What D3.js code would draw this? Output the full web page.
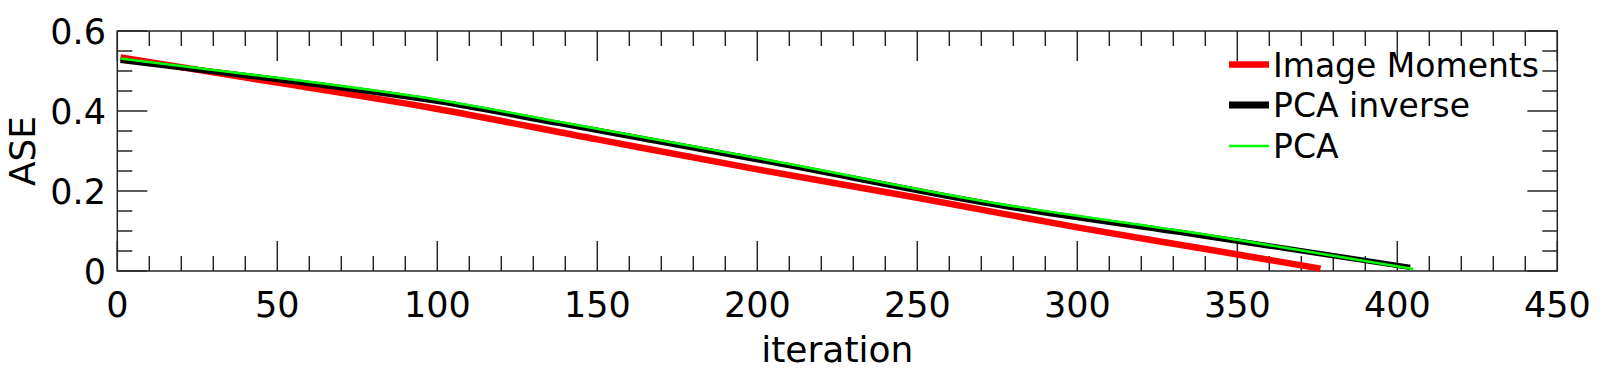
<!DOCTYPE html>
<html>
<head>
<meta charset="utf-8">
<script src="https://cdn.jsdelivr.net/npm/d3@7"></script>
<style>
  html, body { margin: 0; padding: 0; background: #fff; }
  svg { display: block; font-family: "DejaVu Sans", sans-serif; }
</style>
</head>
<body>
<svg id="chart" width="1611" height="371"></svg>
<script>
// ---- data ----
const seriesNames = ["Image Moments", "PCA inverse", "PCA"];
const seriesColors = ["#ff0000", "#000000", "#00ff00"];
const imageMomentsIter = [1, 50, 100, 150, 200, 250, 300, 340, 376];
const imageMomentsASE  = [0.534, 0.471, 0.405, 0.329, 0.254, 0.183, 0.109, 0.055, 0.006];
const pcaInverseIter = [1, 50, 100, 138, 205, 274, 340, 404];
const pcaInverseASE  = [0.527, 0.479, 0.424, 0.369, 0.271, 0.166, 0.087, 0.009];
const pcaIter = [1, 50, 100, 138, 205, 274, 340, 405];
const pcaASE  = [0.531, 0.483, 0.428, 0.373, 0.275, 0.170, 0.091, 0.005];
const xMajorTicks = [0, 50, 100, 150, 200, 250, 300, 350, 400, 450];
const yMajorTicks = [0, 0.2, 0.4, 0.6];
const yTickLabels = ["0", "0.2", "0.4", "0.6"];

// ---- layout ----
const svg = d3.select("#chart");
const L = 117.3, R = 1557.3, T = 31, B = 271;
const x = d3.scaleLinear().domain([0, 450]).range([L, R]);
const y = d3.scaleLinear().domain([0, 0.6]).range([B, T]);
const axisColor = "#262626";

const xMinor = d3.range(0, 451, 10).filter(v => v % 50 !== 0);
const yMinor = d3.range(0, 0.6001, 0.05).filter(v => Math.abs(v / 0.2 - Math.round(v / 0.2)) > 1e-6);

const major = 30, minor = 15;
const g = svg.append("g");

// ticks (inward, mirrored on all sides)
function xt(vals, len) {
  vals.forEach(v => {
    g.append("line").attr("x1", x(v)).attr("x2", x(v)).attr("y1", B).attr("y2", B - len)
      .attr("stroke", axisColor).attr("stroke-width", 1.5);
    g.append("line").attr("x1", x(v)).attr("x2", x(v)).attr("y1", T).attr("y2", T + len)
      .attr("stroke", axisColor).attr("stroke-width", 1.5);
  });
}
function yt(vals, len) {
  vals.forEach(v => {
    g.append("line").attr("x1", L).attr("x2", L + len).attr("y1", y(v)).attr("y2", y(v))
      .attr("stroke", axisColor).attr("stroke-width", 1.5);
    g.append("line").attr("x1", R).attr("x2", R - len).attr("y1", y(v)).attr("y2", y(v))
      .attr("stroke", axisColor).attr("stroke-width", 1.5);
  });
}
xt(xMajorTicks, major); xt(xMinor, minor);
yt(yMajorTicks, major); yt(yMinor, minor);

// frame
g.append("rect").attr("x", L).attr("y", T).attr("width", R - L).attr("height", B - T)
  .attr("fill", "none").attr("stroke", axisColor).attr("stroke-width", 1.5);

// tick labels
g.selectAll(".xl").data(xMajorTicks).join("text")
  .attr("x", d => x(d)).attr("y", 317).attr("text-anchor", "middle")
  .attr("font-size", 35).attr("fill", "#000").text(d => d);
g.selectAll(".yl").data(yMajorTicks).join("text")
  .attr("x", 106).attr("y", d => y(d) + 12.5).attr("text-anchor", "end")
  .attr("font-size", 35).attr("fill", "#000").text((d, i) => yTickLabels[i]);

// axis titles
svg.append("text").attr("x", (L + R) / 2).attr("y", 362).attr("text-anchor", "middle")
  .attr("font-size", 36).text("iteration");
svg.append("text").attr("transform", `translate(35,${(T + B) / 2}) rotate(-90)`)
  .attr("text-anchor", "middle").attr("font-size", 36).text("ASE");

// lines
const line = d3.line().x(d => x(d[0])).y(d => y(d[1])).curve(d3.curveMonotoneX);
const series = [
  { xs: imageMomentsIter, ys: imageMomentsASE, w: 6.5 },
  { xs: pcaInverseIter, ys: pcaInverseASE, w: 5.5 },
  { xs: pcaIter, ys: pcaASE, w: 2.5 }
];
series.forEach((s, i) => {
  svg.append("path").datum(s.xs.map((v, j) => [v, s.ys[j]]))
    .attr("d", line).attr("fill", "none").attr("stroke", seriesColors[i])
    .attr("stroke-width", s.w).attr("stroke-linejoin", "round");
});

// legend
const legY = [64.5, 105, 146];
seriesNames.forEach((n, i) => {
  svg.append("line").attr("x1", 1229).attr("x2", 1269).attr("y1", legY[i]).attr("y2", legY[i])
    .attr("stroke", seriesColors[i]).attr("stroke-width", series[i].w + (i === 1 ? 1.5 : 0));
  svg.append("text").attr("x", 1273).attr("y", legY[i] + 12).attr("font-size", 33)
    .attr("fill", "#000").text(n);
});
</script>
</body>
</html>
